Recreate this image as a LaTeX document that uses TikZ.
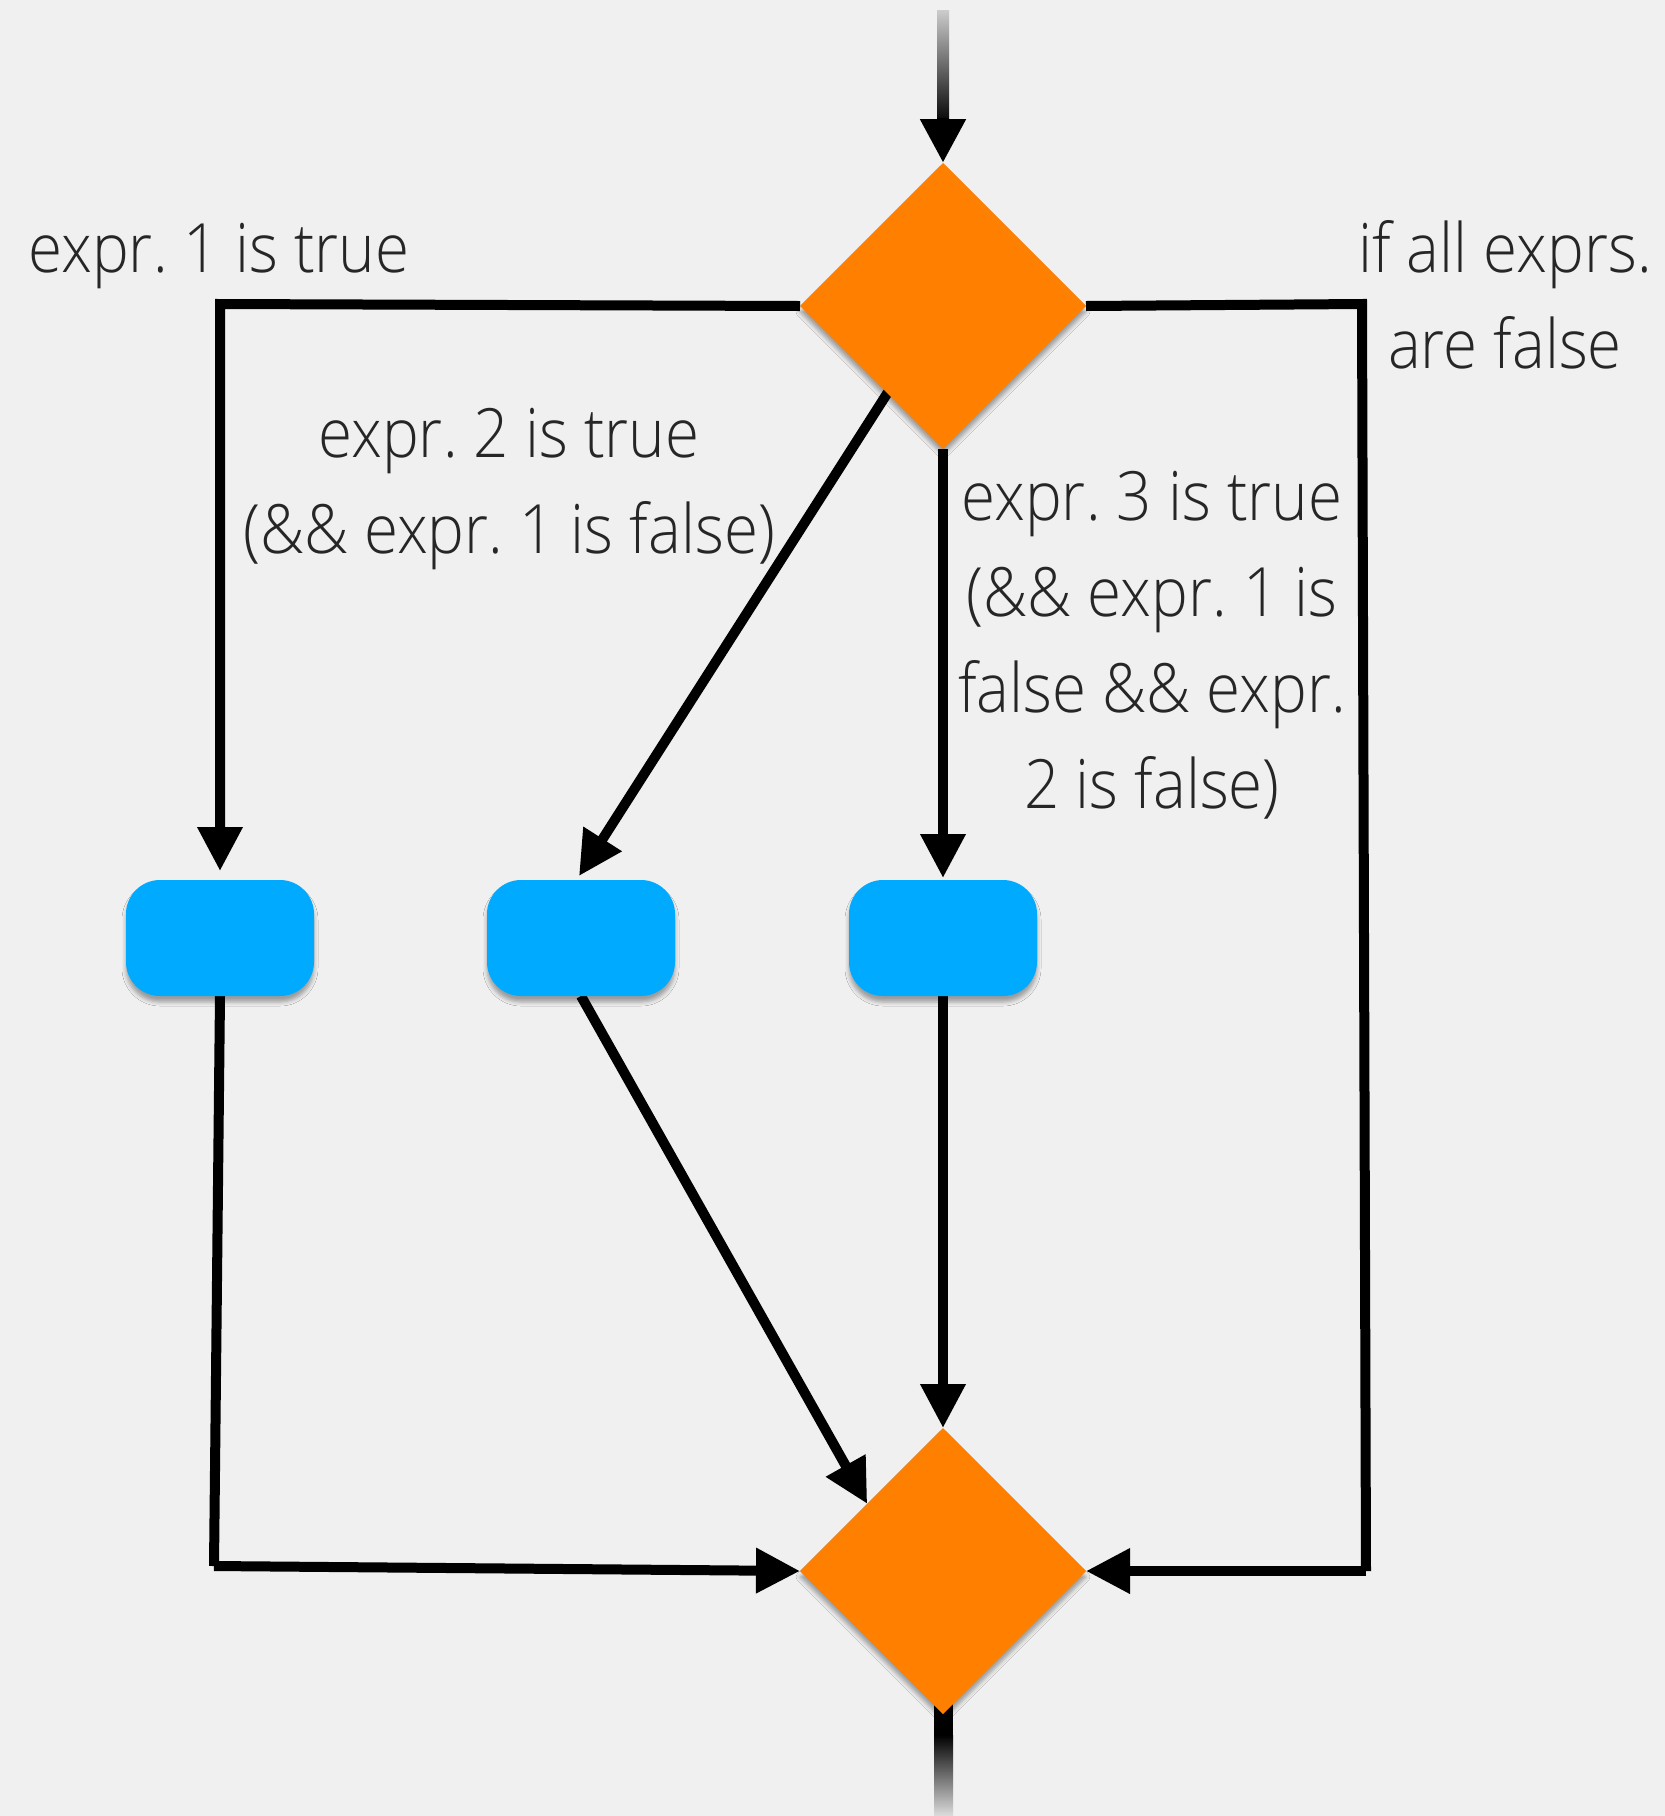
\documentclass[tikz,border=0pt]{standalone}
\usepackage{fontspec}
\IfFontExistsTF{Open Sans Light}
  {\setmainfont{Open Sans Light}[FakeStretch=0.91]}
  {\setmainfont{Open Sans}[FakeStretch=0.91]}
\frenchspacing
\usetikzlibrary{arrows.meta,shapes.geometric,shadows.blur,calc}
\definecolor{pagebg}{RGB}{240,240,240}
\definecolor{decorange}{RGB}{255,128,0}
\definecolor{stepblue}{RGB}{0,170,255}
\pgfdeclarelayer{bg}
\pgfsetlayers{bg,main}
\tikzset{
  softshadow/.style={blur shadow={shadow xshift=0pt, shadow yshift=-6pt, shadow blur radius=4pt, shadow opacity=35}},
  decision/.style={diamond, aspect=1, fill=decorange, draw=none,
    minimum width=286pt, minimum height=286pt, inner sep=0pt, outer sep=0pt, softshadow},
  stepbox/.style={rectangle, rounded corners=34pt, fill=stepblue, draw=none,
    minimum width=188pt, minimum height=116pt, inner sep=0pt, outer sep=0pt, softshadow},
  flow/.style={line width=10pt, draw=black, -{Triangle[length=44pt,width=43pt]}},
  plainflow/.style={line width=10pt, draw=black},
  caption/.style={font=\fontsize{68pt}{96pt}\selectfont, text=black!85, align=center, inner sep=0pt}
}
\begin{document}
\begin{tikzpicture}[x=1pt,y=-1pt]
  \useasboundingbox (0,0) rectangle (1665,1816);

  % decisions and steps
  \node[decision] (d1) at (943,306) {};
  \node[decision] (d2) at (943,1571) {};
  \node[stepbox] (s1) at (220,938) {};
  \node[stepbox] (s2) at (581,938) {};
  \node[stepbox] (s3) at (943,938) {};

  % bend points of the outer branches
  \coordinate (l1) at (220,304);
  \coordinate (l2) at (214,1566);
  \coordinate (r1) at (1362,304);
  \coordinate (r2) at (1366,1571);
  \coordinate (in) at (943,118);

  \begin{pgfonlayer}{bg}
    \fill[pagebg] (0,0) rectangle (1665,1816);
    % incoming line, fading in from the top
    \shade[top color=pagebg!85!black, bottom color=black] (937,10) rectangle (949,125);
    % outgoing line, fading out to the bottom
    \shade[top color=black, bottom color=pagebg!92!black] (934,1735) rectangle (953,1816);
    \fill[black] (934,1700) rectangle (953,1736);

    \draw[flow] (d1.west) -- (l1) -- ($(s1.north)+(0,-9)$);
    \draw[flow] (d1.center) -- ($(s2.north)+(-2,-4)$);
    \draw[flow] (d1.south) -- ($(s3.north)+(0,-2)$);
    \draw[plainflow] (d1.east) -- (r1) -- (r2);
    \draw[flow] (r2) -- (d2.east);
    \draw[plainflow] (s1.south) -- (l2);
    \draw[flow] (l2) -- (d2.west);
    \draw[flow] (s2.south) -- ($(d2.west)!0.47!(d2.north)$);
    \draw[flow] (s3.south) -- (d2.north);
  \end{pgfonlayer}
  \draw[-{Triangle[length=44pt,width=43pt]}, line width=12pt] (in) -- (d1.north);

  % branch labels (base anchor = baseline of the last line)
  \node[caption, anchor=base] (t1) at (219,272) {expr. 1 is true};
  \node[caption, anchor=base] (t2) at (509,553) {expr. 2 is true\\(\&\& expr. 1 is false)};
  \node[caption, anchor=base] (t3) at (1152,808) {expr. 3 is true\\(\&\& expr. 1 is\\false \&\& expr.\\2 is false)};
  \node[caption, anchor=base] (t4) at (1505,368) {if all exprs.\\are false};
\end{tikzpicture}
\end{document}
